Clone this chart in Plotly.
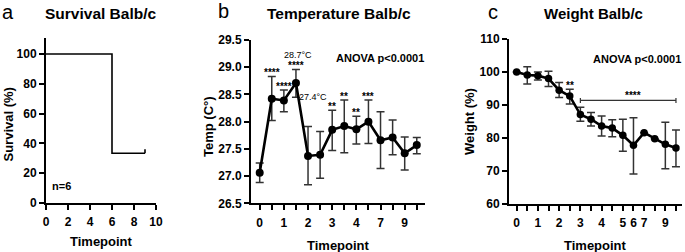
import plotly.graph_objects as go

W, H = 685, 252
FONT = "Liberation Sans, Arial, sans-serif"

# ---------------- data ----------------
# Panel a: survival
surv_times = [0, 6, 9]
surv_values = [100, 33.33, 33.33]
censor_times = [9]
censor_values = [33.33]
surv_xticks = [0, 2, 4, 6, 8, 10]
surv_yticks = [0, 20, 40, 60, 80, 100]

# Panel b: temperature
temp_index = list(range(14))
temp_tick_labels = ["0", "", "1", "", "2", "", "3", "", "4", "", "7", "", "9", ""]
temp_mean = [27.06, 28.42, 28.39, 28.71, 27.37, 27.39, 27.85, 27.92, 27.86, 28.00, 27.66, 27.71, 27.42, 27.57]
temp_upper = [27.24, 28.83, 28.58, 28.96, 27.91, 27.82, 28.21, 28.40, 28.10, 28.40, 28.18, 28.03, 27.72, 27.71]
temp_lower = [26.88, 28.02, 28.18, 28.45, 26.84, 26.96, 27.47, 27.43, 27.59, 27.60, 27.14, 27.39, 27.11, 27.41]
temp_sig = {1: "****", 2: "****", 3: "****", 6: "**", 7: "**", 8: "**", 9: "***"}
temp_yticks = [26.5, 27.0, 27.5, 28.0, 28.5, 29.0, 29.5]

# Panel c: weight
weight_index = list(range(16))
weight_tick_labels = ["0", "", "1", "", "2", "", "3", "", "4", "", "5", "6", "7", "", "9", ""]
weight_mean = [100.0, 99.1, 98.9, 98.0, 94.5, 92.7, 87.1, 85.7, 83.6, 83.0, 80.8, 77.8, 81.6, 79.8, 78.1, 77.0]
weight_upper = [100.0, 101.6, 100.0, 100.2, 96.8, 94.8, 89.3, 87.7, 86.7, 85.5, 85.7, 86.1, 81.6, 79.8, 84.8, 82.4]
weight_lower = [100.0, 96.4, 97.6, 95.6, 92.3, 90.3, 85.1, 83.6, 80.6, 80.4, 76.0, 69.1, 81.6, 79.8, 70.7, 71.3]
weight_sig = {5: "**"}
weight_bracket = (6, 15, 91.4, "****")
weight_yticks = [60, 70, 80, 90, 100, 110]


def px(x):
    return x / W


def py(y):
    return 1 - y / H


fig = go.Figure()

# survival curve
fig.add_trace(go.Scatter(x=surv_times, y=surv_values, mode="lines", line_shape="hv",
                         line=dict(color="black", width=1.6), xaxis="x", yaxis="y",
                         showlegend=False, hoverinfo="skip"))

# temperature
fig.add_trace(go.Scatter(
    x=temp_index, y=temp_mean, mode="lines+markers",
    line=dict(color="black", width=2.6), marker=dict(color="black", size=8),
    error_y=dict(type="data", symmetric=False,
                 array=[u - m for u, m in zip(temp_upper, temp_mean)],
                 arrayminus=[m - l for m, l in zip(temp_mean, temp_lower)],
                 color="#333333", thickness=1.5, width=4),
    xaxis="x2", yaxis="y2", showlegend=False, hoverinfo="skip"))

# weight
fig.add_trace(go.Scatter(
    x=weight_index, y=weight_mean, mode="lines+markers",
    line=dict(color="black", width=2.6), marker=dict(color="black", size=7.5),
    error_y=dict(type="data", symmetric=False,
                 array=[u - m for u, m in zip(weight_upper, weight_mean)],
                 arrayminus=[m - l for m, l in zip(weight_mean, weight_lower)],
                 color="#333333", thickness=1.5, width=4),
    xaxis="x3", yaxis="y3", showlegend=False, hoverinfo="skip"))

tickfont = dict(family=FONT, size=12, color="black", weight="bold")
axis_common = dict(showline=True, linecolor="black", linewidth=2, ticks="outside",
                   ticklen=5, tickwidth=2, tickcolor="black", showgrid=False,
                   zeroline=False, tickfont=tickfont, fixedrange=True, automargin=False)
xstand = 2

fig.update_layout(
    width=W, height=H, margin=dict(l=0, r=0, t=0, b=0, pad=0, autoexpand=False),
    paper_bgcolor="white", plot_bgcolor="white",
    xaxis=dict(axis_common, domain=[px(46), px(156)], range=[0, 10],
               tickvals=surv_xticks, anchor="y", ticklabelstandoff=xstand),
    yaxis=dict(axis_common, domain=[py(203), py(38)], range=[0, 110.7],
               tickvals=surv_yticks, anchor="x"),
    xaxis2=dict(axis_common, domain=[px(251), px(425)], range=[-0.72, 13.68],
                tickvals=temp_index, ticktext=temp_tick_labels, anchor="y2",
                ticklabelstandoff=xstand),
    yaxis2=dict(axis_common, domain=[py(203.3), py(40)], range=[26.5, 29.5],
                tickvals=temp_yticks, tickformat=".1f", anchor="x2"),
    xaxis3=dict(axis_common, domain=[px(509), px(681.7)], range=[-0.72, 15.54],
                tickvals=weight_index, ticktext=weight_tick_labels, anchor="y3",
                ticklabelstandoff=xstand),
    yaxis3=dict(axis_common, domain=[py(204), py(39)], range=[60, 110],
                tickvals=weight_yticks, anchor="x3"),
)

ann = []


def text(x, y, s, size, bold=True, angle=0, xref="paper", yref="paper",
         xanchor="center", yanchor="middle", **kw):
    ann.append(dict(x=x, y=y, xref=xref, yref=yref, text=s, showarrow=False,
                    textangle=angle, xanchor=xanchor, yanchor=yanchor,
                    font=dict(family=FONT, size=size, color="black",
                              weight="bold" if bold else "normal"), **kw))


# panel letters
text(px(8), py(12), "a", 20, bold=False)
text(px(223), py(11), "b", 20, bold=False)
text(px(493), py(12), "c", 20, bold=False)
# titles
text(px(100.8), py(13.3), "Survival Balb/c", 15.5)
text(px(338.8), py(13.3), "Temperature Balb/c", 15.5)
text(px(593.3), py(13.3), "Weight Balb/c", 15)
# axis titles
text(px(7.5), py(125), "Survival (%)", 13, angle=-90)
text(px(208), py(127), "Temp (C°)", 13, angle=-90)
text(px(469), py(122), "Weight (%)", 13, angle=-90)
text(px(101), py(241), "Timepoint", 13)
text(px(338), py(245), "Timepoint", 13)
text(px(595), py(245), "Timepoint", 13)
# n=6
text(px(61.7), py(186), "n=6", 11)

# temperature annotations
for i, s in temp_sig.items():
    text(i, temp_upper[i], s, 10, xref="x2", yref="y2", yshift=3.5)
text(3.2, 29.22, "28.7°C", 9, bold=False, xref="x2", yref="y2")
text(4.41, 28.46, "27.4°C", 9, bold=False, xref="x2", yref="y2")
text(9.96, 29.17, "ANOVA p<0.0001", 11, xref="x2", yref="y2")

# weight annotations
for i, s in weight_sig.items():
    text(i, weight_upper[i], s, 10, xref="x3", yref="y3", yshift=3.5)
b0, b1, by, bs = weight_bracket
text((b0 + b1) / 2 + 0.45, by, bs, 10, xref="x3", yref="y3", yshift=5)
text(11.3, 104.06, "ANOVA p<0.0001", 11, xref="x3", yref="y3")
fig.update_layout(annotations=ann)

shapes = [
    dict(type="line", xref="x3", yref="y3", x0=b0, x1=b1, y0=by, y1=by,
         line=dict(color="#333333", width=1.2)),
]
for bx in (b0, b1):
    shapes.append(dict(type="line", xref="x3", yref="y3", x0=bx, x1=bx,
                       ysizemode="pixel", yanchor=by, y0=-2.5, y1=2.5,
                       line=dict(color="#333333", width=1.2)))
for cx, cy in zip(censor_times, censor_values):
    shapes.append(dict(type="line", xref="x", yref="y", x0=cx, x1=cx,
                       ysizemode="pixel", yanchor=cy, y0=0, y1=4,
                       line=dict(color="black", width=1.6)))
fig.update_layout(shapes=shapes)

fig.write_html("out.html")
